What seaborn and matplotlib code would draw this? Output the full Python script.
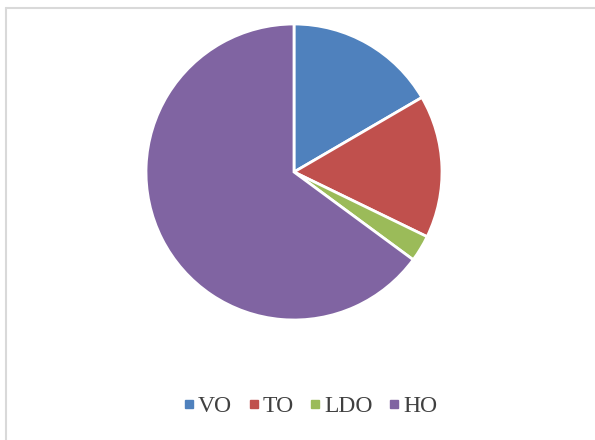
import matplotlib
matplotlib.use("Agg")
import matplotlib.pyplot as plt
from matplotlib.lines import Line2D
import seaborn as sns

labels = ["VO", "TO", "LDO", "HO"]
shares = [16.6, 15.6, 2.9, 64.9]
colors = ["#4F81BD", "#C0504D", "#9BBB59", "#8064A2"]

sns.set_theme(style="white")
plt.rcParams["font.family"] = ["Liberation Serif", "DejaVu Serif"]

fig = plt.figure(figsize=(5.95, 4.40), dpi=100)

# chart frame (only left/top edges visible in the original crop)
fig.add_artist(Line2D([6 / 595, 6 / 595], [0, 1 - 8 / 440], color="#d9d9d9", lw=1.5))
fig.add_artist(Line2D([6 / 595, 1], [1 - 8 / 440, 1 - 8 / 440], color="#d9d9d9", lw=1.5))

r = 148
cx, cy = 294, 172
ax = fig.add_axes([(cx - r) / 595, 1 - (cy + r) / 440, 2 * r / 595, 2 * r / 440])
ax.pie(shares, colors=colors, startangle=90, counterclock=False,
       wedgeprops=dict(edgecolor="white", linewidth=2))
ax.set_xlim(-1, 1)
ax.set_ylim(-1, 1)
ax.set_aspect("equal")
ax.axis("off")

handles = [Line2D([], [], marker="s", color=c, linestyle="none", markersize=6)
           for c in colors]
fig.legend(handles, labels, loc="center", bbox_to_anchor=(0.519, 1 - 406 / 440),
           ncol=4, frameon=False, fontsize=17, handletextpad=0.0,
           columnspacing=0.52, handlelength=0.77, labelcolor="#404040")

fig.savefig("out.png", dpi=100, facecolor="white")
